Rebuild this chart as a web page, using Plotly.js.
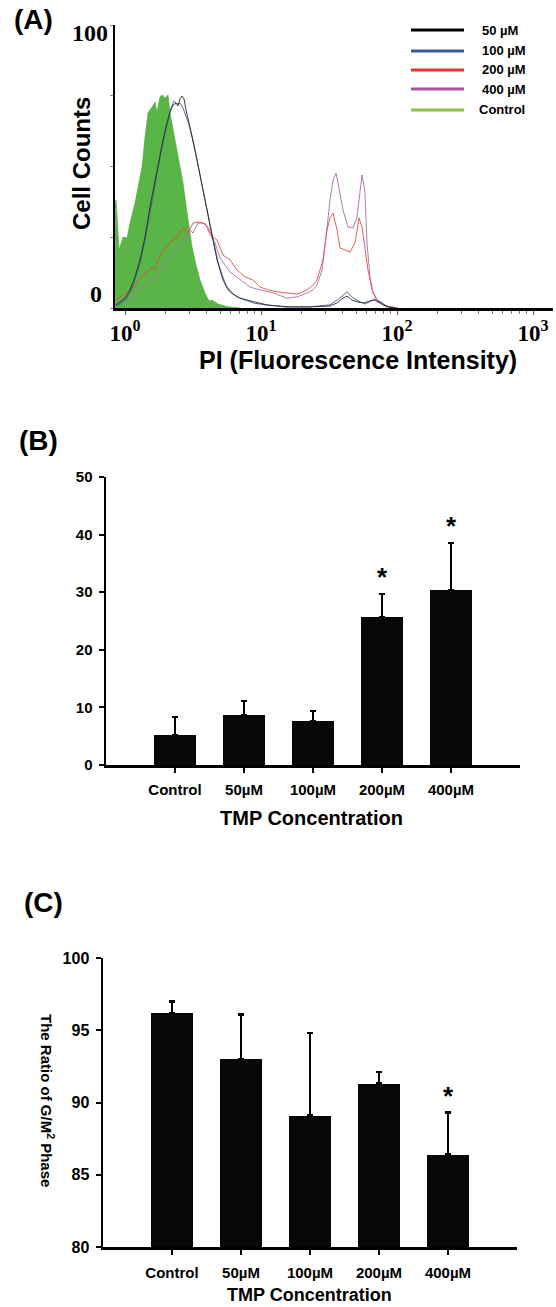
<!DOCTYPE html>
<html><head><meta charset="utf-8">
<script src="https://cdn.plot.ly/plotly-3.0.1.min.js"></script>
<style>html,body{margin:0;padding:0;background:#fff}#chart{width:556px;height:1307px}</style>
</head><body><div id="chart"></div>
<script>
// ---------- Panel A: PI histograms (x = fluorescence intensity, y = cell counts) ----------
const seriesNames = ['50 µM', '100 µM', '200 µM', '400 µM', 'Control'];

const ctrlX = [0.845, 0.859, 0.904, 0.967, 1.034, 1.088, 1.184, 1.246, 1.334, 1.403, 1.476, 1.579, 1.662, 1.719, 1.809, 1.871, 1.968, 2.071, 2.142, 2.332, 2.537, 2.670, 2.809, 2.955, 3.109, 3.327, 3.561, 3.875, 4.146, 4.363, 4.830, 5.719, 7.008];
const ctrlY = [36.0, 38.2, 20.5, 25.1, 24.7, 30.0, 37.1, 42.8, 49.8, 60.4, 68.9, 71.0, 72.8, 69.3, 74.6, 75.3, 74.2, 75.3, 68.9, 59.4, 50.5, 44.2, 36.4, 28.3, 21.6, 15.2, 9.9, 5.3, 2.5, 2.8, 1.4, 0.4, 0];

const t50X = [0.859, 0.919, 1.000, 1.088, 1.184, 1.289, 1.403, 1.527, 1.662, 1.809, 1.903, 2.036, 2.142, 2.254, 2.371, 2.453, 2.537, 2.625, 2.716, 2.809, 2.906, 3.006, 3.217, 3.384, 3.561, 3.747, 4.009, 4.217, 4.513, 4.749, 4.994, 5.255, 5.719, 6.224, 7.008, 7.890, 9.035, 11.07, 15.53, 22.93, 32.17, 36.23, 40.09, 42.90, 46.68, 51.68, 57.21, 63.32, 67.76, 74.99, 84.45, 96.67];
const t50Y = [1.1, 2.1, 3.5, 6.4, 11.0, 17.0, 25.1, 35.7, 45.2, 54.8, 59.4, 65.4, 69.3, 71.7, 72.4, 71.4, 73.9, 74.9, 73.9, 70.0, 67.1, 64.0, 57.6, 52.3, 47.0, 40.6, 33.9, 28.6, 22.3, 17.0, 13.4, 9.9, 6.4, 4.9, 3.5, 2.8, 2.1, 1.1, 0.4, 0.4, 0.7, 1.8, 3.5, 4.2, 2.8, 2.1, 1.8, 2.5, 2.8, 1.8, 0.4, 0];

const t100X = [0.859, 0.919, 1.000, 1.088, 1.184, 1.289, 1.403, 1.527, 1.662, 1.809, 1.935, 2.071, 2.179, 2.293, 2.412, 2.537, 2.670, 2.809, 2.955, 3.109, 3.271, 3.442, 3.622, 3.810, 4.078, 4.290, 4.590, 4.830, 5.167, 5.528, 6.017, 6.661, 7.627, 8.735, 10.70, 15.02, 22.93, 32.17, 36.23, 39.42, 42.90, 46.68, 51.68, 58.18, 64.40, 68.92, 76.28, 85.87, 96.67];
const t100Y = [0.7, 1.4, 2.8, 5.3, 9.9, 15.9, 24.0, 33.9, 44.2, 53.4, 60.1, 66.4, 70.7, 73.1, 72.1, 72.4, 70.7, 67.8, 64.7, 60.4, 55.8, 50.5, 45.2, 39.6, 32.9, 27.6, 21.2, 16.3, 11.7, 8.1, 5.7, 3.9, 2.8, 1.8, 1.1, 0.4, 0.4, 1.1, 2.8, 4.2, 5.7, 3.9, 2.5, 1.4, 2.5, 3.2, 2.1, 0.4, 0];

const t200X = [0.859, 1.000, 1.126, 1.246, 1.451, 1.579, 1.662, 1.748, 1.903, 2.142, 2.412, 2.670, 2.906, 3.162, 3.442, 3.747, 4.078, 4.363, 4.749, 5.255, 5.916, 6.661, 7.627, 8.735, 9.832, 11.26, 13.11, 15.53, 18.40, 20.37, 21.79, 24.12, 25.81, 27.15, 28.57, 30.58, 32.17, 33.84, 36.23, 38.11, 41.47, 45.12, 49.12, 52.56, 55.30, 58.18, 61.21, 65.50, 71.29, 78.90, 88.82, 101.7];
const t200Y = [2.8, 5.3, 6.4, 9.9, 12.4, 14.5, 13.4, 17.0, 20.5, 23.0, 25.1, 28.3, 26.5, 30.0, 30.4, 30.0, 28.6, 25.4, 24.0, 18.7, 17.0, 13.4, 11.0, 9.9, 7.4, 6.4, 5.7, 5.3, 4.9, 5.7, 6.4, 8.1, 9.9, 13.4, 17.0, 27.6, 31.8, 33.6, 27.6, 21.2, 20.5, 19.8, 23.0, 31.8, 28.6, 20.5, 13.4, 6.4, 2.8, 1.1, 0.4, 0];

const t400X = [0.859, 1.126, 1.246, 1.451, 1.662, 1.903, 2.216, 2.453, 2.762, 3.006, 3.162, 3.442, 3.875, 4.217, 4.590, 4.994, 5.916, 7.008, 8.300, 9.832, 12.25, 15.53, 18.40, 21.79, 24.12, 25.81, 28.09, 30.58, 32.17, 33.84, 35.61, 36.84, 40.09, 43.63, 47.48, 50.81, 53.46, 55.30, 58.18, 60.18, 63.32, 66.62, 72.51, 78.90, 88.82, 101.7];
const t400Y = [1.8, 3.9, 6.4, 8.8, 11.0, 14.5, 18.0, 21.6, 25.1, 27.6, 26.5, 30.0, 30.0, 25.8, 23.0, 17.7, 12.7, 9.9, 7.4, 6.4, 5.3, 3.5, 3.9, 5.3, 6.4, 8.1, 13.4, 28.3, 38.2, 45.2, 47.7, 44.2, 34.6, 28.6, 28.3, 32.2, 41.7, 47.0, 40.6, 23.0, 11.0, 5.3, 2.1, 1.1, 0.4, 0];

const majorTicksA = [1, 10, 100, 1000];
const majorTickTextA = ['10<sup>0</sup>', '10<sup>1</sup>', '10<sup>2</sup>', '10<sup>3</sup>'];
const minorTicksA = [2, 3, 4, 5, 6, 7, 8, 9, 20, 30, 40, 50, 60, 70, 80, 90, 200, 300, 400, 500, 600, 700, 800, 900];
const countTicksA = [0, 25, 50, 75, 100];

// ---------- Panel B ----------
const categories = ['Control', '50µM', '100µM', '200µM', '400µM'];
const valuesB = [5.2, 8.7, 7.6, 25.7, 30.4];
const errorsB = [3.1, 2.4, 1.8, 4.0, 8.1];
const sigB = ['', '', '', '*', '*'];
const ticksB = [0, 10, 20, 30, 40, 50];

// ---------- Panel C ----------
const valuesC = [96.2, 93.0, 89.1, 91.3, 86.4];
const errorsC = [0.8, 3.1, 5.7, 0.8, 2.9];
const sigC = ['', '', '', '', '*'];
const ticksC = [80, 85, 90, 95, 100];

// ---------- styling ----------
const W = 556, H = 1307;
const px = v => v / W, py = v => 1 - v / H;
const SANS = 'Liberation Sans, Arial, sans-serif';
const SERIF = 'Liberation Serif, Times New Roman, serif';
const curveColors = ['#2a2a2a', '#44599c', '#e54a42', '#a56fae'];
const legendColors = ['#000000', '#3a56a5', '#e8352b', '#a652a5', '#8dc63f'];

const traces = [];
traces.push({x: ctrlX, y: ctrlY, type: 'scatter', mode: 'lines', fill: 'tozeroy',
  fillcolor: '#5ab547', line: {color: '#4fa63f', width: 0.6}, xaxis: 'x', yaxis: 'y', name: seriesNames[4], showlegend: false, hoverinfo: 'skip'});
const curveData = [[t400X, t400Y, 3], [t200X, t200Y, 2], [t100X, t100Y, 1], [t50X, t50Y, 0]];
curveData.forEach(([xs, ys, i]) => traces.push({x: xs, y: ys, type: 'scatter', mode: 'lines',
  line: {color: curveColors[i], width: 0.9}, xaxis: 'x', yaxis: 'y', name: seriesNames[i], showlegend: false}));

traces.push({x: categories, y: valuesB, type: 'bar', width: 0.62, marker: {color: '#070707', line: {width: 0}},
  error_y: {type: 'data', array: errorsB, arrayminus: errorsB.map(() => 0), symmetric: false, color: '#000', thickness: 2.5, width: 3},
  xaxis: 'x2', yaxis: 'y2', showlegend: false});
traces.push({x: categories, y: valuesC, type: 'bar', width: 0.62, marker: {color: '#070707', line: {width: 0}},
  error_y: {type: 'data', array: errorsC, arrayminus: errorsC.map(() => 0), symmetric: false, color: '#000', thickness: 2.5, width: 3},
  xaxis: 'x3', yaxis: 'y3', showlegend: false});

const ann = [];
const addText = (text, x, y, size, opts = {}) => ann.push(Object.assign({text, x: px(x), y: py(y), xref: 'paper', yref: 'paper',
  showarrow: false, xanchor: 'center', yanchor: 'middle', font: {family: SANS, size, color: '#000', weight: 700}}, opts));

addText('<b>(A)</b>', 33, 20, 28);
addText('<b>(B)</b>', 38, 441, 28);
addText('<b>(C)</b>', 43, 902, 28);
addText('<b>Cell Counts</b>', 81, 164, 24, {textangle: -90});
addText('<b>PI (Fluorescence Intensity)</b>', 358, 360, 25);
addText('<b>100</b>', 90, 33, 24, {font: {family: SERIF, size: 24, color: '#000'}});
addText('<b>0</b>', 96, 294, 24, {font: {family: SERIF, size: 24, color: '#000'}});
addText('<b>TMP Concentration</b>', 311, 818, 20);
addText('<b>TMP Concentration</b>', 309, 1295, 18);
addText('<b>The Ratio of G/M<sup>2</sup> Phase</b>', 48, 1100, 15, {textangle: 90});

// legend (drawn by hand, as in the figure)
const legY = [30, 51, 70, 89, 110];
const shapes = [];
seriesNames.forEach((n, i) => {
  shapes.push({type: 'line', xref: 'paper', yref: 'paper', x0: px(411), x1: px(464), y0: py(legY[i]), y1: py(legY[i]),
    line: {color: legendColors[i], width: 3}});
  addText('<b>' + n + '</b>', i === 4 ? 477 : 480, legY[i], 13, {xanchor: 'left'});
});

// significance stars from data
[[sigB, valuesB, errorsB, 'x2', 'y2'], [sigC, valuesC, errorsC, 'x3', 'y3']].forEach(([sig, v, e, xr, yr]) => {
  sig.forEach((s, i) => { if (s) ann.push({text: '<b>' + s + '</b>', x: categories[i], y: v[i] + e[i], xref: xr, yref: yr,
    showarrow: false, yanchor: 'bottom', yshift: 0, font: {family: SANS, size: 26, color: '#000'}}); });
});

const catAxis = (domain) => ({domain, type: 'category', range: [-1, 5], showline: true, linewidth: 3, linecolor: '#000',
  ticks: 'outside', ticklen: 5, tickwidth: 2, tickcolor: '#000', showgrid: false, zeroline: false,
  tickfont: {family: SANS, size: 15, color: '#000', weight: 700}, ticklabelstandoff: 4, fixedrange: true});

const layout = {
  width: W, height: H, margin: {l: 0, r: 0, t: 0, b: 0}, paper_bgcolor: '#fff', plot_bgcolor: 'rgba(0,0,0,0)',
  showlegend: false, bargap: 0,
  xaxis: {domain: [px(115), px(553)], anchor: 'y', type: 'log', range: [Math.log10(0.844), 3.147],
    showline: true, linewidth: 3, linecolor: '#000', showgrid: false, zeroline: false,
    tickmode: 'array', tickvals: majorTicksA, ticktext: majorTickTextA, ticks: 'outside', ticklen: 4, tickwidth: 1, tickcolor: '#555',
    tickfont: {family: SERIF, size: 23, color: '#000', weight: 700}, ticklabelstandoff: -2,
    minor: {tickmode: 'array', tickvals: minorTicksA, ticks: 'outside', ticklen: 3, tickwidth: 1, tickcolor: '#777', showgrid: false}},
  yaxis: {domain: [py(308), py(25)], anchor: 'x', range: [0, 100], showline: true, linewidth: 2, linecolor: '#000',
    showgrid: false, zeroline: false, tickmode: 'array', tickvals: countTicksA, ticks: 'outside', ticklen: 3, tickwidth: 1,
    tickcolor: '#888', showticklabels: false},
  xaxis2: Object.assign(catAxis([px(106), px(520)]), {anchor: 'y2', ticklabelstandoff: 4}),
  yaxis2: {domain: [py(765), py(477)], anchor: 'x2', range: [0, 50], tickvals: ticksB, showline: true, linewidth: 2.5,
    linecolor: '#000', ticks: 'outside', ticklen: 5, tickwidth: 2, tickcolor: '#000', showgrid: false, zeroline: false,
    tickfont: {family: SANS, size: 15, color: '#000', weight: 700}, ticklabelstandoff: 3},
  xaxis3: Object.assign(catAxis([px(103), px(517)]), {anchor: 'y3', ticklabelstandoff: 5}),
  yaxis3: {domain: [py(1247), py(958)], anchor: 'x3', range: [80, 100], tickvals: ticksC, showline: true, linewidth: 2.5,
    linecolor: '#000', ticks: 'outside', ticklen: 5, tickwidth: 2, tickcolor: '#000', showgrid: false, zeroline: false,
    tickfont: {family: SANS, size: 16, color: '#000', weight: 700}, ticklabelstandoff: 3},
  annotations: ann, shapes
};

Plotly.newPlot('chart', traces, layout, {displayModeBar: false, staticPlot: true});
</script></body></html>
